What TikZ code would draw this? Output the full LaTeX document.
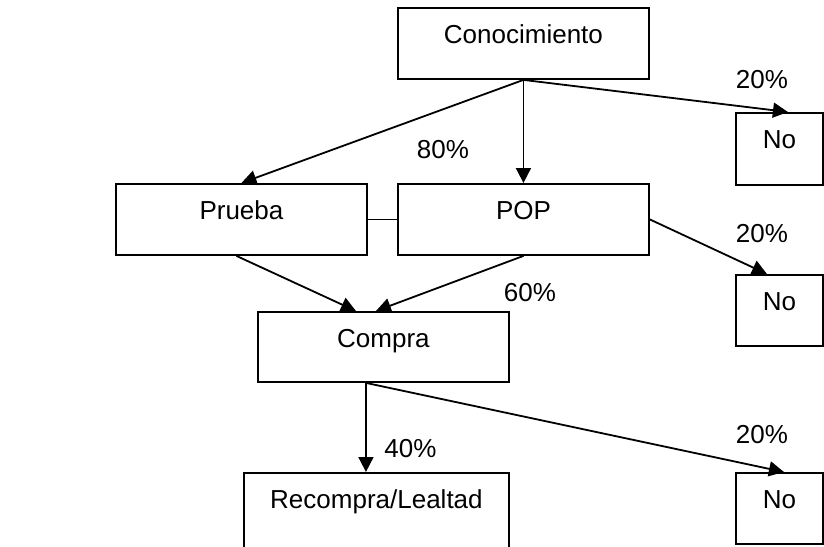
\documentclass[tikz,border=0pt]{standalone}
\usepackage{fontspec}
\setmainfont{Liberation Sans}
\usetikzlibrary{arrows.meta}
\begin{document}
\begin{tikzpicture}[x=1pt,y=-1pt,
  font=\fontsize{26}{30}\selectfont,
  box/.style={draw, line width=1.9pt, inner sep=0pt, anchor=north west, text height=36pt},
  conn/.style={line width=1.8pt},
  arr/.style={conn, -{Triangle[length=15pt,width=15pt]}},
  pct/.style={anchor=base, inner sep=0pt}]
\useasboundingbox (0,0) rectangle (824,546);
\clip (0,0) rectangle (824,546);
% boxes
\node[box, minimum width=251pt, text depth=35pt] (C) at (397,7) {Conocimiento};
\node[box, minimum width=251pt, text depth=35pt] (P) at (115,183) {Prueba};
\node[box, minimum width=251pt, text depth=35pt] (POP) at (397,183) {POP};
\node[box, minimum width=87pt, text depth=36pt] (N1) at (735,112) {No};
\node[box, minimum width=87pt, text depth=35pt] (N2) at (735,274) {No};
\node[box, minimum width=251pt, text depth=34pt] (K) at (257,311) {Compra};
\node[box, minimum width=265pt, text depth=70pt] (R) at (243,472) {Recompra/Lealtad};
\node[box, minimum width=87pt, text depth=35pt] (N3) at (735,472) {No};
% connectors
\draw[arr] (C.south) -- (P.north);
\draw[arr] (C.south) -- (POP.north);
\draw[arr] (C.south) -- ([xshift=8.5pt]N1.north);
\draw[conn] (P.east) -- (POP.west);
\draw[arr] ([xshift=-5pt]P.south) -- ([xshift=-27.5pt]K.north);
\draw[arr] (POP.south) -- ([xshift=-7.5pt]K.north);
\draw[arr] (POP.east) -- ([xshift=-12.5pt]N2.north);
\draw[arr] ([xshift=-17.5pt]K.south) -- ([xshift=-10.5pt]R.north);
\draw[arr] ([xshift=-17.5pt]K.south) -- ([xshift=4.5pt]N3.north);
% labels
\node[pct] (l80) at (443,158) {80\%};
\node[pct] (l20a) at (762,88) {20\%};
\node[pct] (l20b) at (762,242) {20\%};
\node[pct] (l60) at (530,301) {60\%};
\node[pct] (l40) at (410.5,457) {40\%};
\node[pct] (l20c) at (762,443) {20\%};
\end{tikzpicture}
\end{document}
